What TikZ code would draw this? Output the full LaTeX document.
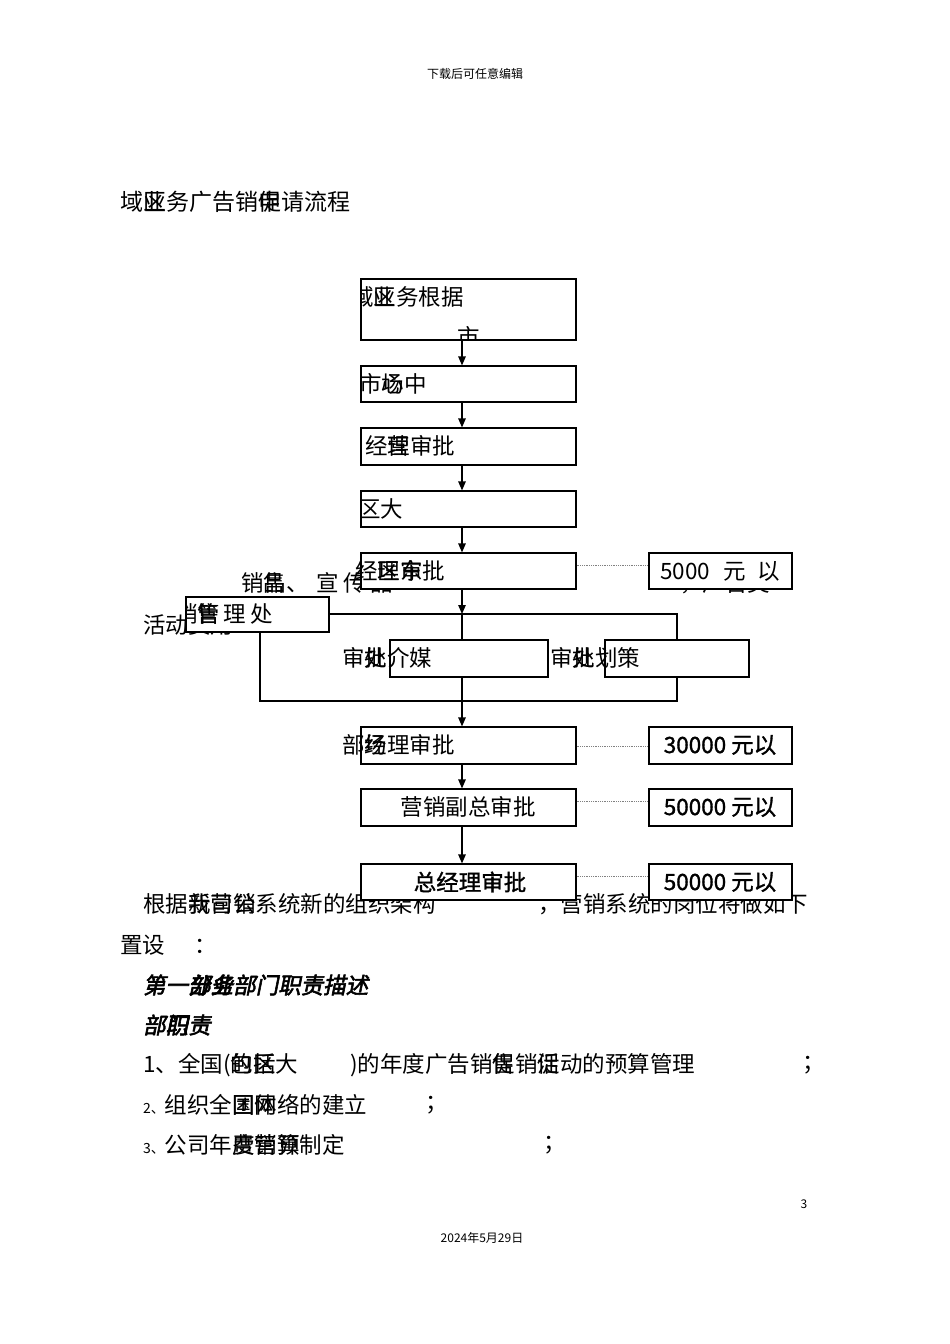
\documentclass[tikz,border=0pt]{standalone}
\usepackage{fontspec}
\setmainfont{Noto Sans CJK SC}
\newfontfamily\cjkbold[FakeBold=1.3]{Noto Sans CJK SC}
\newfontfamily\cjkslant[FakeSlant=0.2,FakeBold=2.5]{Noto Sans CJK SC}
\usepackage{tikz}
\usetikzlibrary{arrows.meta, positioning}
% two glyphs printed on top of each other
\newcommand{\ovch}[2]{\rlap{#1}#2}

\begin{document}
\begin{tikzpicture}[
    x=1pt, y=-1pt,
    box/.style={draw, line width=1.2pt, fill=white, minimum width=215pt, minimum height=36pt, inner sep=0pt},
    sidebox/.style={box, minimum width=143pt},
    txt/.style={anchor=west, inner sep=0pt, font=\fontsize{22.5}{26}\selectfont},
    ctxt/.style={txt, anchor=center},
    btxt/.style={ctxt, font=\fontsize{22.5}{26}\cjkbold},
    small/.style={inner sep=0pt, font=\fontsize{12}{14}\selectfont},
    arr/.style={line width=1.2pt, -{Triangle[length=9pt,width=7.5pt]}},
    link/.style={line width=1.2pt},
    dotline/.style={gray, line width=0.8pt, densely dotted}
]
\useasboundingbox (0,0) rectangle (950,1344);

\node[small] (head) at (475,74) {下载后可任意编辑};
\node[txt, font=\fontsize{23}{27}\selectfont] (title) at (120,202) {域\ovch{区}{业}务广告销\ovch{促}{申}请流程};

% text lying under the boxes
\node[txt] (rowa) at (241,583) {销\ovch{品}{售}、\hspace{0.35em}宣\hspace{0.2em}传\hspace{0.2em}品};
\node[txt] (rowb) at (680,583) {，广告类};
\node[txt] (rowc) at (143,625) {活动费用};

\coordinate (spine) at (462,0);
\coordinate (split) at (462,614);
\coordinate (join) at (462,701);

% bracket behind the three offices
\draw[link] (260,614) -- (677,614) -- (677,640);
\draw[link] (260,614) -- (260,701) -- (677,701) -- (677,677);

% main column
\node[box, minimum height=61pt] (b1) at (468.5,309.5) {};
\node[box] (b2) at (468.5,384) {};
\node[box, minimum height=37pt] (b3) at (468.5,446.5) {};
\node[box] (b4) at (468.5,509) {};
\node[box] (b5) at (468.5,571) {};
\node[box, minimum height=37pt] (b6) at (468.5,745.5) {};
\node[box, minimum height=37pt] (b7) at (468.5,807.5) {};

% offices
\node[box, minimum width=143pt, minimum height=35pt] (mgr) at (257.5,614.5) {};
\node[box, minimum width=158pt, minimum height=37pt] (media) at (469,658.5) {};
\node[box, minimum width=144pt, minimum height=37pt] (plan) at (677,658.5) {};

% amount limits
\node[sidebox] (r1) at (720.5,571) {};
\node[sidebox, minimum height=37pt] (r2) at (720.5,745.5) {};
\node[sidebox, minimum height=37pt] (r3) at (720.5,807.5) {};

\begin{scope}
  \clip (b1.south west) rectangle (b1.north east);
  \node[txt] (t1) at (351,297) {域\ovch{区}{业}务根据};
  \node[ctxt] (t1b) at (469,337) {市};
\end{scope}
\node[txt] (t2) at (359,384) {市\ovch{场}{心}中};
\node[txt] (t3) at (365,446) {经\ovch{理}{营}审批};
\node[txt] (t4) at (358,509) {区大};
\node[txt] (t5) at (355,571) {经\ovch{理}{区}\ovch{审}{东}批};
\begin{scope}
  \clip (mgr.south west) rectangle (mgr.north east);
  \node[txt] (tm) at (175,614) {销\ovch{售}{管}\,理\,处};
\end{scope}
\node[txt] (tmed) at (342,658) {审\ovch{批}{处}介媒};
\node[txt] (tpla) at (550,658) {审\ovch{批}{处}划策};
\node[txt] (t6) at (342,745) {部\ovch{场}{经}理审批};
\node[ctxt] (t7) at (468,807) {营销副总审批};

\node[ctxt] (tr1) at (720,571) {5000\hspace{0.6em}元\hspace{0.5em}以};
\node[btxt] (tr2) at (720,745) {30000 元以};
\node[btxt] (tr3) at (720,807) {50000 元以};

% running text below the chart
\node[txt] (p1a) at (143,904) {根据\ovch{我}{新}\ovch{营}{司}\ovch{销}{公}系统新的组织架构};
\node[txt] (p1b) at (538,904) {，营销系统的岗位将做如下};
\node[txt] (p2) at (120,945) {置设\hspace{1.3em}：};
\node[txt, font=\fontsize{22.5}{26}\cjkslant] (sec) at (143,985) {第一\ovch{部}{分}\ovch{业}{务}部门职责描述};
\node[txt, font=\fontsize{22.5}{26}\cjkslant] (sub) at (143,1025) {部\ovch{门}{职}责};
\node[txt] (l1a) at (143,1065) {1、全国(\ovch{的}{包}\ovch{括}{区}大};
\node[txt] (l1b) at (350,1065) {)的年度广告销\ovch{促}{售}销\ovch{活}{促}动的预算管理};
\node[txt] (l1c) at (802,1065) {；};
\node[txt] (l2a) at (143,1105) {{\fontsize{14}{16}\selectfont 2、}组织全\ovch{国}{团}\ovch{网}{体}络的建立};
\node[txt] (l2b) at (425,1105) {；};
\node[txt] (l3a) at (143,1145) {{\fontsize{14}{16}\selectfont 3、}公司年\ovch{度}{费}\ovch{营}{销}\ovch{预}{算}制定};
\node[txt] (l3b) at (543,1145) {；};

% the last two boxes lie over the first text line
\node[box] (b8) at (468.5,882) {};
\node[sidebox] (r4) at (720.5,882) {};
\node[btxt] (t8) at (470,882) {总经理审批};
\node[btxt] (tr4) at (720,882) {50000 元以};

% arrows
\draw[arr] (b1.south -| spine) -- (b2.north -| spine);
\draw[arr] (b2.south -| spine) -- (b3.north -| spine);
\draw[arr] (b3.south -| spine) -- (b4.north -| spine);
\draw[arr] (b4.south -| spine) -- (b5.north -| spine);
\draw[arr] (b5.south -| spine) -- (split);
\draw[link] (split) -- (media.north -| spine);
\draw[link] (media.south -| spine) -- (join);
\draw[arr] (join) -- (b6.north -| spine);
\draw[arr] (b6.south -| spine) -- (b7.north -| spine);
\draw[arr] (b7.south -| spine) -- (b8.north -| spine);

\draw[dotline] ([yshift=6pt]b5.east) -- ([yshift=6pt]r1.west);
\draw[dotline] ([yshift=-1pt]b6.east) -- ([yshift=-1pt]r2.west);
\draw[dotline] ([yshift=6pt]b7.east) -- ([yshift=6pt]r3.west);
\draw[dotline] ([yshift=6pt]b8.east) -- ([yshift=6pt]r4.west);

\node[small] (pagenum) at (804,1204) {3};
\node[small] (date) at (482,1238) {2024年5月29日};
\end{tikzpicture}
\end{document}
